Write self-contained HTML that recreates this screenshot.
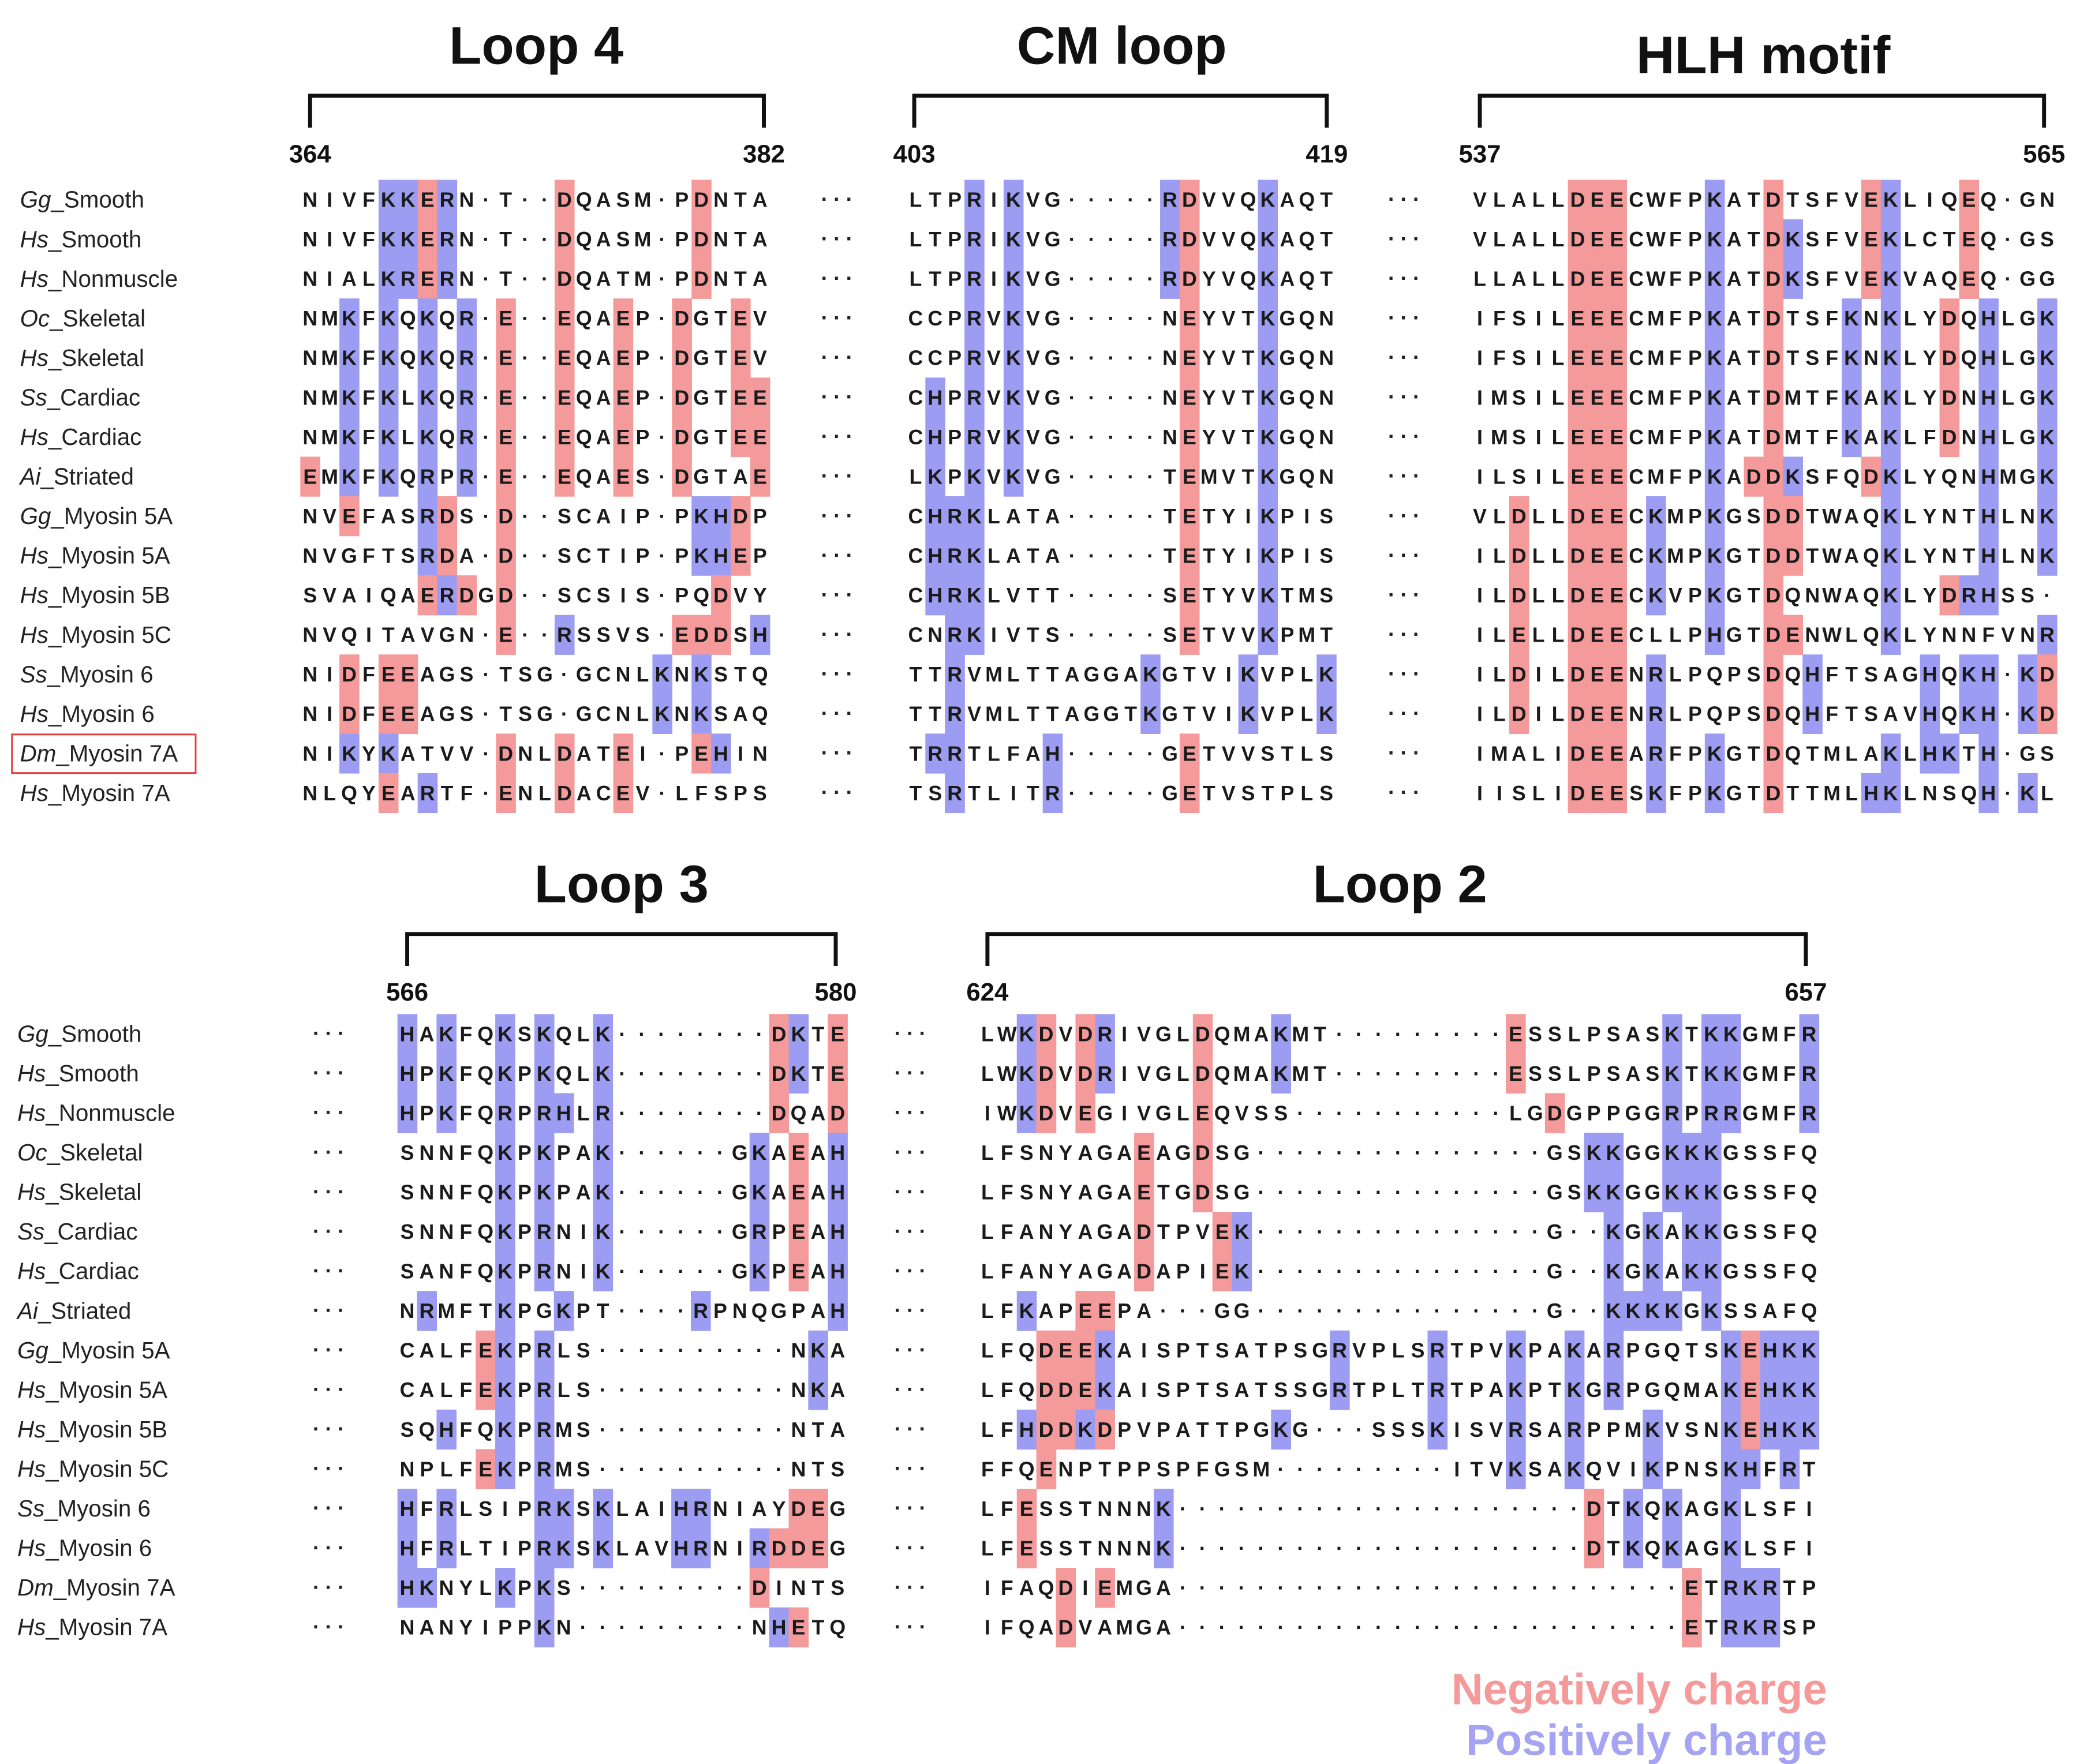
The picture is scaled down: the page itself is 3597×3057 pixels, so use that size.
<!DOCTYPE html>
<html><head><meta charset="utf-8">
<style>
html,body{margin:0;padding:0;background:#fff;}
svg{display:block;}
</style></head>
<body>
<svg id="fig" xmlns="http://www.w3.org/2000/svg" width="3597" height="3057" viewBox="0 0 1560 1325.8" font-family="Liberation Sans, Arial, sans-serif"></svg>
<script>
const species = ["Gg_Smooth","Hs_Smooth","Hs_Nonmuscle","Oc_Skeletal","Hs_Skeletal","Ss_Cardiac","Hs_Cardiac","Ai_Striated","Gg_Myosin 5A","Hs_Myosin 5A","Hs_Myosin 5B","Hs_Myosin 5C","Ss_Myosin 6","Hs_Myosin 6","Dm_Myosin 7A","Hs_Myosin 7A"];
const loop4 = ["NIVFKKERN·T··DQASM·PDNTA","NIVFKKERN·T··DQASM·PDNTA","NIALKRERN·T··DQATM·PDNTA","NMKFKQKQR·E··EQAEP·DGTEV","NMKFKQKQR·E··EQAEP·DGTEV","NMKFKLKQR·E··EQAEP·DGTEE","NMKFKLKQR·E··EQAEP·DGTEE","EMKFKQRPR·E··EQAES·DGTAE","NVEFASRDS·D··SCAIP·PKHDP","NVGFTSRDA·D··SCTIP·PKHEP","SVAIQAERDGD··SCSIS·PQDVY","NVQITAVGN·E··RSSVS·EDDSH","NIDFEEAGS·TSG·GCNLKNKSTQ","NIDFEEAGS·TSG·GCNLKNKSAQ","NIKYKATVV·DNLDATEI·PEHIN","NLQYEARTF·ENLDACEV·LFSPS"];
const cmLoop = ["LTPRIKVG·····RDVVQKAQT","LTPRIKVG·····RDVVQKAQT","LTPRIKVG·····RDYVQKAQT","CCPRVKVG·····NEYVTKGQN","CCPRVKVG·····NEYVTKGQN","CHPRVKVG·····NEYVTKGQN","CHPRVKVG·····NEYVTKGQN","LKPKVKVG·····TEMVTKGQN","CHRKLATA·····TETYIKPIS","CHRKLATA·····TETYIKPIS","CHRKLVTT·····SETYVKTMS","CNRKIVTS·····SETVVKPMT","TTRVMLTTAGGAKGTVIKVPLK","TTRVMLTTAGGTKGTVIKVPLK","TRRTLFAH·····GETVVSTLS","TSRTLITR·····GETVSTPLS"];
const hlh = ["VLALLDEECWFPKATDTSFVEKLIQEQ·GN","VLALLDEECWFPKATDKSFVEKLCTEQ·GS","LLALLDEECWFPKATDKSFVEKVAQEQ·GG","IFSILEEECMFPKATDTSFKNKLYDQHLGK","IFSILEEECMFPKATDTSFKNKLYDQHLGK","IMSILEEECMFPKATDMTFKAKLYDNHLGK","IMSILEEECMFPKATDMTFKAKLFDNHLGK","ILSILEEECMFPKADDKSFQDKLYQNHMGK","VLDLLDEECKMPKGSDDTWAQKLYNTHLNK","ILDLLDEECKMPKGTDDTWAQKLYNTHLNK","ILDLLDEECKVPKGTDQNWAQKLYDRHSS·","ILELLDEECLLPHGTDENWLQKLYNNFVNR","ILDILDEENRLPQPSDQHFTSAGHQKH·KD","ILDILDEENRLPQPSDQHFTSAVHQKH·KD","IMALIDEEARFPKGTDQTMLAKLHKTH·GS","IISLIDEESKFPKGTDTTMLHKLNSQH·KL"];
const loop3 = ["HAKFQKSKQLK········DKTE","HPKFQKPKQLK········DKTE","HPKFQRPRHLR········DQAD","SNNFQKPKPAK······GKAEAH","SNNFQKPKPAK······GKAEAH","SNNFQKPRNIK······GRPEAH","SANFQKPRNIK······GKPEAH","NRMFTKPGKPT····RPNQGPAH","CALFEKPRLS··········NKA","CALFEKPRLS··········NKA","SQHFQKPRMS··········NTA","NPLFEKPRMS··········NTS","HFRLSIPRKSKLAIHRNIAYDEG","HFRLTIPRKSKLAVHRNIRDDEG","HKNYLKPKS·········DINTS","NANYIPPKN·········NHETQ"];
const loop2 = ["LWKDVDRIVGLDQMAKMT·········ESSLPSASKTKKGMFR","LWKDVDRIVGLDQMAKMT·········ESSLPSASKTKKGMFR","IWKDVEGIVGLEQVSS···········LGDGPPGGRPRRGMFR","LFSNYAGAEAGDSG···············GSKKGGKKKGSSFQ","LFSNYAGAETGDSG···············GSKKGGKKKGSSFQ","LFANYAGADTPVEK···············G··KGKAKKGSSFQ","LFANYAGADAPIEK···············G··KGKAKKGSSFQ","LFKAPEEPA···GG···············G··KKKKGKSSAFQ","LFQDEEKAISPTSATPSGRVPLSRTPVKPAKARPGQTSKEHKK","LFQDDEKAISPTSATSSGRTPLTRTPAKPTKGRPGQMAKEHKK","LFHDDKDPVPATTPGKG···SSSKISVRSARPPMKVSNKEHKK","FFQENPTPPSPFGSM·········ITVKSAKQVIKPNSKHFRT","LFESSTNNNK·····················DTKQKAGKLSFI","LFESSTNNNK·····················DTKQKAGKLSFI","IFAQDIEMGA··························ETRKRTP","IFQADVAMGA··························ETRKRSP"];
const topNums = [["364","382"],["403","419"],["537","565"]];
const botNums = [["566","580"],["624","657"]];

const NS="http://www.w3.org/2000/svg";
const svg=document.getElementById('fig');
function mk(tag,attrs,parent){const e=document.createElementNS(NS,tag);for(const k in attrs)e.setAttribute(k,attrs[k]);(parent||svg).appendChild(e);return e;}
function fit(s,n){
  let a=s.split('');
  while(a.length!==n){
    // find longest dot run
    let best=-1,bl=0,i=0;
    while(i<a.length){if(a[i]==='·'){let j=i;while(j<a.length&&a[j]==='·')j++;if(j-i>bl){bl=j-i;best=i;}i=j;}else i++;}
    if(best<0)best=Math.floor(a.length/2);
    if(a.length<n)a.splice(best,0,'·');else a.splice(best,1);
  }
  return a;
}
const CW=14.7, STEP=29.73, RH=29.73;
function block(seqs,x0,n,y0,name){
  const g=mk('g',{});
  
  
  seqs.forEach((s,r)=>{
    const cy=y0+r*STEP;
    fit(s,n).forEach((c,i)=>{
      const cx=x0+i*CW;
      let fill=null;
      if(c==='D'||c==='E')fill='#f59a9a';
      else if(c==='K'||c==='R'||c==='H')fill='#9c9cf2';
      if(fill){const rc=mk('rect',{x:cx-CW/2,y:cy-RH/2,width:CW+0.3,height:RH+0.3,fill:fill},g);
        
        }
      const t=mk('text',{x:cx,y:cy+5.5,'text-anchor':'middle','font-size':'15.5','font-weight':'bold',fill:'#1a1a1a'},g);
      
      
      t.textContent=c;
    });
  });
}
function labels(y0,x){
  species.forEach((s,r)=>{
    const p=s.split('_');
    const t=mk('text',{x:x,y:y0+r*STEP+6,'font-size':'17.5',fill:'#222'});
    
    
    const a=mk('tspan',{'font-style':'italic'},t);a.textContent=p[0];
    const b=mk('tspan',{},t);b.textContent='_'+p[1];
  });
}
function dots(x,y0){
  for(let r=0;r<16;r++){const t=mk('text',{x:x,y:y0+r*STEP+5,'text-anchor':'middle','font-size':'16','font-weight':'bold',fill:'#222','letter-spacing':'4'});
    
    
    t.textContent='···';}
}
function bracket(x1,x2,y,title,tx,ty,nums,ny){
  const p=mk('path',{d:`M${x1} ${y+24}V${y}H${x2}V${y+24}`,stroke:'#111','stroke-width':'3',fill:'none'});
  
  
  const t=mk('text',{x:tx,y:ty,'text-anchor':'middle','font-size':'40','font-weight':'bold',fill:'#111'});
  
  
  t.textContent=title;
  [[x1,nums[0]],[x2,nums[1]]].forEach(([x,s])=>{const n=mk('text',{x:x,y:ny,'text-anchor':'middle','font-size':'19','font-weight':'bold',fill:'#111'});
    
    
    n.textContent=s;});
}
// top panel
const TY=150;
labels(TY,15);
block(loop4,233,24,TY,'loop4-alignment');
block(cmLoop,688,22,TY,'cm-loop-alignment');
block(hlh,1112,30,TY,'hlh-motif-alignment');
dots(631,TY);dots(1057,TY);
bracket(233,574,72,'Loop 4',403,48,topNums[0],122);
bracket(687,997,72,'CM loop',843,48,topNums[1],122);
bracket(1112,1536,72,'HLH motif',1325,55,topNums[2],122);
const box=mk('rect',{x:9,y:552,width:138,height:29,fill:'none',stroke:'#e04040','stroke-width':'1.3'});


// bottom panel
const BY=777;
labels(BY,13);
block(loop3,306,23,BY,'loop3-alignment');
block(loop2,742,43,BY,'loop2-alignment');
dots(249,BY);dots(686,BY);
bracket(306,628,702,'Loop 3',467,678,botNums[0],752);
bracket(742,1357,702,'Loop 2',1052,678,botNums[1],752);
// legend
const l1=mk('text',{x:1373,y:1281,'text-anchor':'end','font-size':'33','font-weight':'bold',fill:'#f59a9a'});


l1.textContent='Negatively charge';
const l2=mk('text',{x:1373,y:1319,'text-anchor':'end','font-size':'33','font-weight':'bold',fill:'#a4a4f2'});


l2.textContent='Positively charge';
</script>
</body></html>
